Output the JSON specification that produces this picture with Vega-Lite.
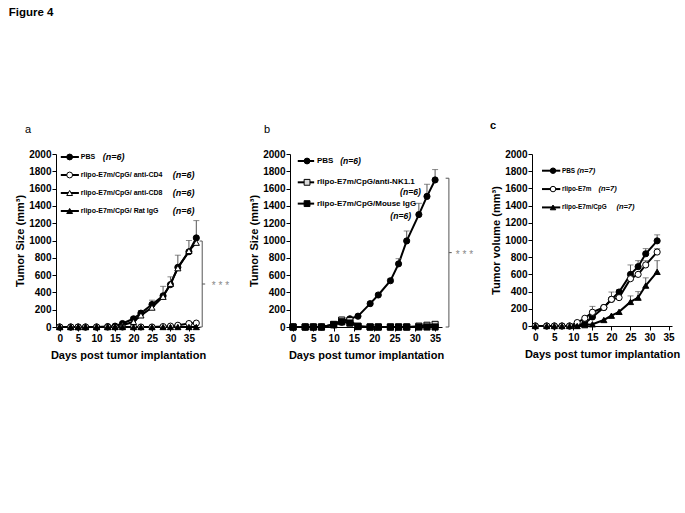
{
  "$schema": "https://vega.github.io/schema/vega-lite/v6.json",
  "padding": {"left": 8, "top": 6, "right": 5, "bottom": 5},
  "title": {"text": "Figure 4", "anchor": "start", "frame": "bounds", "dx": -6, "offset": 102, "fontSize": 11.5, "fontWeight": "bold", "font": "Liberation Sans", "color": "black"},
  "bounds": "flush",
  "spacing": 90,
  "resolve": {"scale": {"shape": "independent", "fill": "independent"}},
  "config": {
    "view": {"stroke": null},
    "font": "Liberation Sans",
    "axis": {"grid": false, "domainColor": "black", "tickColor": "black", "tickSize": 4, "labelFont": "Liberation Sans", "labelFontWeight": "bold", "labelFontSize": 10, "labelColor": "black", "titleFont": "Liberation Sans", "titleFontWeight": "bold", "titleFontSize": 11, "titleColor": "black", "labelFlush": false, "labelOverlap": false, "format": "d"},
    "axisX": {"labelPadding": 2, "titlePadding": 6},
    "axisY": {"labelPadding": 1, "titlePadding": 3},
    "title": {"font": "Liberation Sans", "color": "black"}
  },
  "datasets": {
    "a": [
      {"g":"PBS","d":0,"v":0},{"g":"PBS","d":3,"v":0},{"g":"PBS","d":5,"v":0},{"g":"PBS","d":7,"v":0},{"g":"PBS","d":10,"v":0},{"g":"PBS","d":13,"v":5},{"g":"PBS","d":15,"v":10},{"g":"PBS","d":17,"v":40},{"g":"PBS","d":20,"v":95,"hi":115},{"g":"PBS","d":22,"v":160,"hi":190},{"g":"PBS","d":25,"v":260,"hi":310},{"g":"PBS","d":28,"v":360,"hi":470},{"g":"PBS","d":30,"v":490,"hi":580},{"g":"PBS","d":32,"v":690,"hi":830},{"g":"PBS","d":35,"v":870,"hi":1000},{"g":"PBS","d":37,"v":1030,"hi":1230},
      {"g":"CD4","d":0,"v":0},{"g":"CD4","d":3,"v":0},{"g":"CD4","d":5,"v":0},{"g":"CD4","d":7,"v":0},{"g":"CD4","d":10,"v":0},{"g":"CD4","d":13,"v":0},{"g":"CD4","d":15,"v":0},{"g":"CD4","d":17,"v":0},{"g":"CD4","d":20,"v":0},{"g":"CD4","d":22,"v":0},{"g":"CD4","d":25,"v":0},{"g":"CD4","d":28,"v":5},{"g":"CD4","d":30,"v":10},{"g":"CD4","d":32,"v":20},{"g":"CD4","d":35,"v":40},{"g":"CD4","d":37,"v":45},
      {"g":"CD8","d":0,"v":0},{"g":"CD8","d":3,"v":0},{"g":"CD8","d":5,"v":0},{"g":"CD8","d":7,"v":0},{"g":"CD8","d":10,"v":0},{"g":"CD8","d":13,"v":0},{"g":"CD8","d":15,"v":5},{"g":"CD8","d":17,"v":20},{"g":"CD8","d":20,"v":60},{"g":"CD8","d":22,"v":135},{"g":"CD8","d":25,"v":225},{"g":"CD8","d":28,"v":350},{"g":"CD8","d":30,"v":500},{"g":"CD8","d":32,"v":680},{"g":"CD8","d":35,"v":880},{"g":"CD8","d":37,"v":975},
      {"g":"Rat","d":0,"v":0},{"g":"Rat","d":3,"v":0},{"g":"Rat","d":5,"v":0},{"g":"Rat","d":7,"v":0},{"g":"Rat","d":10,"v":0},{"g":"Rat","d":13,"v":0},{"g":"Rat","d":15,"v":0},{"g":"Rat","d":17,"v":0},{"g":"Rat","d":20,"v":0},{"g":"Rat","d":22,"v":0},{"g":"Rat","d":25,"v":0},{"g":"Rat","d":28,"v":0},{"g":"Rat","d":30,"v":0},{"g":"Rat","d":32,"v":0},{"g":"Rat","d":35,"v":0},{"g":"Rat","d":37,"v":0}
    ],
    "b": [
      {"g":"PBS","d":0,"v":0},{"g":"PBS","d":3,"v":0},{"g":"PBS","d":5,"v":0},{"g":"PBS","d":7,"v":0},{"g":"PBS","d":10,"v":25},{"g":"PBS","d":12,"v":55},{"g":"PBS","d":14,"v":95},{"g":"PBS","d":16,"v":125},{"g":"PBS","d":19,"v":270,"hi":290},{"g":"PBS","d":21,"v":370,"hi":390},{"g":"PBS","d":24,"v":535,"hi":560},{"g":"PBS","d":26,"v":730,"hi":790},{"g":"PBS","d":28,"v":995,"hi":1110},{"g":"PBS","d":31,"v":1300,"hi":1430},{"g":"PBS","d":33,"v":1510,"hi":1650},{"g":"PBS","d":35,"v":1700,"hi":1820},
      {"g":"NK","d":0,"v":0},{"g":"NK","d":3,"v":0},{"g":"NK","d":5,"v":0},{"g":"NK","d":7,"v":0},{"g":"NK","d":10,"v":30},{"g":"NK","d":12,"v":80},{"g":"NK","d":14,"v":75},{"g":"NK","d":16,"v":10},{"g":"NK","d":19,"v":0},{"g":"NK","d":21,"v":0},{"g":"NK","d":24,"v":0},{"g":"NK","d":26,"v":0},{"g":"NK","d":28,"v":0},{"g":"NK","d":31,"v":10},{"g":"NK","d":33,"v":20},{"g":"NK","d":35,"v":30},
      {"g":"Mouse","d":0,"v":0},{"g":"Mouse","d":3,"v":0},{"g":"Mouse","d":5,"v":0},{"g":"Mouse","d":7,"v":0},{"g":"Mouse","d":10,"v":25},{"g":"Mouse","d":12,"v":60},{"g":"Mouse","d":14,"v":45},{"g":"Mouse","d":16,"v":5},{"g":"Mouse","d":19,"v":0},{"g":"Mouse","d":21,"v":0},{"g":"Mouse","d":24,"v":0},{"g":"Mouse","d":26,"v":0},{"g":"Mouse","d":28,"v":0},{"g":"Mouse","d":31,"v":0},{"g":"Mouse","d":33,"v":0},{"g":"Mouse","d":35,"v":0}
    ],
    "c": [
      {"g":"PBS","d":0,"v":0},{"g":"PBS","d":3,"v":0},{"g":"PBS","d":5,"v":0},{"g":"PBS","d":7,"v":0},{"g":"PBS","d":9,"v":0},{"g":"PBS","d":11,"v":10},{"g":"PBS","d":13,"v":30},{"g":"PBS","d":15,"v":105},{"g":"PBS","d":18,"v":215},{"g":"PBS","d":20,"v":310},{"g":"PBS","d":22,"v":395,"hi":420},{"g":"PBS","d":25,"v":600,"hi":710},{"g":"PBS","d":27,"v":690,"hi":760},{"g":"PBS","d":29,"v":840,"hi":900},{"g":"PBS","d":32,"v":990,"hi":1060},
      {"g":"E7m","d":0,"v":0},{"g":"E7m","d":3,"v":0},{"g":"E7m","d":5,"v":0},{"g":"E7m","d":7,"v":0},{"g":"E7m","d":9,"v":0},{"g":"E7m","d":11,"v":40},{"g":"E7m","d":13,"v":90},{"g":"E7m","d":15,"v":160,"hi":228},{"g":"E7m","d":18,"v":215,"hi":240},{"g":"E7m","d":20,"v":310,"hi":395},{"g":"E7m","d":22,"v":330},{"g":"E7m","d":25,"v":550},{"g":"E7m","d":27,"v":600},{"g":"E7m","d":29,"v":710,"hi":760},{"g":"E7m","d":32,"v":860,"hi":900},
      {"g":"CpG","d":0,"v":0},{"g":"CpG","d":3,"v":0},{"g":"CpG","d":5,"v":0},{"g":"CpG","d":7,"v":0},{"g":"CpG","d":9,"v":0},{"g":"CpG","d":11,"v":0},{"g":"CpG","d":13,"v":10},{"g":"CpG","d":15,"v":20},{"g":"CpG","d":18,"v":70},{"g":"CpG","d":20,"v":120},{"g":"CpG","d":22,"v":165},{"g":"CpG","d":25,"v":280,"hi":350},{"g":"CpG","d":27,"v":330,"hi":400},{"g":"CpG","d":29,"v":470,"hi":560},{"g":"CpG","d":32,"v":630,"hi":760}
    ],
    "legA": [
      {"row":0,"g":"PBS","label":"PBS","n":"(n=6)"},
      {"row":1,"g":"CD4","label":"rlipo-E7m/CpG/ anti-CD4","n":"(n=6)"},
      {"row":2,"g":"CD8","label":"rlipo-E7m/CpG/ anti-CD8","n":"(n=6)"},
      {"row":3,"g":"Rat","label":"rlipo-E7m/CpG/ Rat IgG","n":"(n=6)"}
    ],
    "legB": [
      {"row":0,"g":"PBS","label":"PBS","n":"(n=6)"},
      {"row":1,"g":"NK","label":"rlipo-E7m/CpG/anti-NK1.1","n":"(n=6)"},
      {"row":2,"g":"Mouse","label":"rlipo-E7m/CpG/Mouse IgG","n":"(n=6)"}
    ],
    "legC": [
      {"row":0,"g":"PBS","label":"PBS","n":"(n=7)"},
      {"row":1,"g":"E7m","label":"rlipo-E7m","n":"(n=7)"},
      {"row":2,"g":"CpG","label":"rlipo-E7m/CpG","n":"(n=7)"}
    ],
    "one": [{}]
  },
  "hconcat": [
    {
      "width": 144, "height": 173,
      "title": {"text": "a", "anchor": "start", "frame": "group", "dx": -31, "offset": 14, "fontSize": 11, "fontWeight": "normal"},
      "resolve": {"scale": {"y": "independent"}},
      "layer": [
        {"data": {"name": "a"}, "mark": {"type": "line", "color": "black", "strokeWidth": 2}, "encoding": {
          "x": {"field": "d", "type": "quantitative", "scale": {"domain": [-1, 38], "nice": false, "zero": false}, "axis": {"values": [0,5,10,15,20,25,30,35], "title": "Days post tumor implantation"}},
          "y": {"field": "v", "type": "quantitative", "scale": {"domain": [0, 2000], "nice": false}, "axis": {"values": [0,200,400,600,800,1000,1200,1400,1600,1800,2000], "title": "Tumor Size (mm³)"}},
          "detail": {"field": "g"}}},
        {"data": {"name": "a"}, "transform": [{"filter": "isValid(datum.hi)"}], "mark": {"type": "rule", "color": "#555", "strokeWidth": 1}, "encoding": {
          "x": {"field": "d", "type": "quantitative", "axis": {"values": [0,5,10,15,20,25,30,35], "title": "Days post tumor implantation"}},
          "y": {"field": "v", "type": "quantitative", "scale": {"domain": [0, 2000], "nice": false}, "axis": null},
          "y2": {"field": "hi"}}},
        {"data": {"name": "a"}, "transform": [{"filter": "isValid(datum.hi)"}], "mark": {"type": "tick", "orient": "horizontal", "color": "#555", "thickness": 1, "size": 6}, "encoding": {
          "x": {"field": "d", "type": "quantitative", "axis": {"values": [0,5,10,15,20,25,30,35], "title": "Days post tumor implantation"}},
          "y": {"field": "hi", "type": "quantitative", "scale": {"domain": [0, 2000], "nice": false}, "axis": null}}},
        {"data": {"name": "a"}, "mark": {"type": "point", "filled": true, "stroke": "black", "strokeWidth": 1, "size": 38, "opacity": 1}, "encoding": {
          "x": {"field": "d", "type": "quantitative", "axis": {"values": [0,5,10,15,20,25,30,35], "title": "Days post tumor implantation"}},
          "y": {"field": "v", "type": "quantitative", "scale": {"domain": [0, 2000], "nice": false}, "axis": null},
          "shape": {"field": "g", "scale": {"domain": ["PBS","CD4","CD8","Rat"], "range": ["circle","circle","triangle-up","triangle-up"]}, "legend": null},
          "fill": {"field": "g", "scale": {"domain": ["PBS","CD4","CD8","Rat"], "range": ["black","white","white","black"]}, "legend": null}}},
        {"data": {"name": "one"}, "mark": {"type": "rule", "color": "#555", "strokeWidth": 1}, "encoding": {
          "x": {"datum": 38.6, "axis": {"values": [0,5,10,15,20,25,30,35], "title": "Days post tumor implantation"}}, "y": {"datum": 0, "scale": {"domain": [0, 2000], "nice": false}, "axis": null}, "y2": {"datum": 994}}},
        {"data": {"name": "one"}, "mark": {"type": "rule", "color": "#555", "strokeWidth": 1}, "encoding": {
          "x": {"datum": 37.9, "axis": {"values": [0,5,10,15,20,25,30,35], "title": "Days post tumor implantation"}}, "x2": {"datum": 38.6}, "y": {"datum": 994, "scale": {"domain": [0, 2000], "nice": false}, "axis": null}}},
        {"data": {"name": "one"}, "mark": {"type": "rule", "color": "#555", "strokeWidth": 1}, "encoding": {
          "x": {"datum": 37.9, "axis": {"values": [0,5,10,15,20,25,30,35], "title": "Days post tumor implantation"}}, "x2": {"datum": 38.6}, "y": {"datum": 0, "scale": {"domain": [0, 2000], "nice": false}, "axis": null}}},
        {"data": {"name": "one"}, "mark": {"type": "rule", "color": "#555", "strokeWidth": 1}, "encoding": {
          "x": {"datum": 38.6, "axis": {"values": [0,5,10,15,20,25,30,35], "title": "Days post tumor implantation"}}, "x2": {"datum": 39.4}, "y": {"datum": 497, "scale": {"domain": [0, 2000], "nice": false}, "axis": null}}},
        {"data": {"name": "one"}, "mark": {"type": "text", "align": "left", "baseline": "middle", "fontSize": 10, "color": "#888", "dy": 2}, "encoding": {
          "x": {"datum": 41.2, "axis": {"values": [0,5,10,15,20,25,30,35], "title": "Days post tumor implantation"}}, "y": {"datum": 497, "scale": {"domain": [0, 2000], "nice": false}, "axis": null}, "text": {"value": "* * *"}}},
        {"data": {"name": "legA"}, "mark": {"type": "rule", "color": "black", "strokeWidth": 2}, "encoding": {
          "x": {"datum": 0.3, "axis": {"values": [0,5,10,15,20,25,30,35], "title": "Days post tumor implantation"}}, "x2": {"datum": 5.2},
          "y": {"field": "row", "type": "quantitative", "scale": {"domain": [-0.1667, 9.444], "reverse": true, "nice": false, "zero": false}, "axis": null}}},
        {"data": {"name": "legA"}, "mark": {"type": "point", "filled": true, "stroke": "black", "strokeWidth": 1, "size": 34, "opacity": 1}, "encoding": {
          "x": {"datum": 2.7, "axis": {"values": [0,5,10,15,20,25,30,35], "title": "Days post tumor implantation"}},
          "y": {"field": "row", "type": "quantitative", "scale": {"domain": [-0.1667, 9.444], "reverse": true, "nice": false, "zero": false}, "axis": null},
          "shape": {"field": "g", "scale": {"domain": ["PBS","CD4","CD8","Rat"], "range": ["circle","circle","triangle-up","triangle-up"]}, "legend": null},
          "fill": {"field": "g", "scale": {"domain": ["PBS","CD4","CD8","Rat"], "range": ["black","white","white","black"]}, "legend": null}}},
        {"data": {"name": "legA"}, "mark": {"type": "text", "align": "left", "baseline": "middle", "fontSize": 7, "fontWeight": "bold", "color": "black"}, "encoding": {
          "x": {"datum": 5.7, "axis": {"values": [0,5,10,15,20,25,30,35], "title": "Days post tumor implantation"}},
          "y": {"field": "row", "type": "quantitative", "scale": {"domain": [-0.1667, 9.444], "reverse": true, "nice": false, "zero": false}, "axis": null},
          "text": {"field": "label"}}},
        {"data": {"name": "legA"}, "transform": [{"filter": "datum.row == 0"}], "mark": {"type": "text", "align": "left", "baseline": "middle", "fontSize": 9, "fontWeight": "bold", "fontStyle": "italic", "color": "black"}, "encoding": {
          "x": {"datum": 11.65, "axis": {"values": [0,5,10,15,20,25,30,35], "title": "Days post tumor implantation"}},
          "y": {"field": "row", "type": "quantitative", "scale": {"domain": [-0.1667, 9.444], "reverse": true, "nice": false, "zero": false}, "axis": null},
          "text": {"field": "n"}}},
        {"data": {"name": "legA"}, "transform": [{"filter": "datum.row > 0"}], "mark": {"type": "text", "align": "left", "baseline": "middle", "fontSize": 9, "fontWeight": "bold", "fontStyle": "italic", "color": "black"}, "encoding": {
          "x": {"datum": 30.6, "axis": {"values": [0,5,10,15,20,25,30,35], "title": "Days post tumor implantation"}},
          "y": {"field": "row", "type": "quantitative", "scale": {"domain": [-0.1667, 9.444], "reverse": true, "nice": false, "zero": false}, "axis": null},
          "text": {"field": "n"}}}
      ]
    },
    {
      "width": 152, "height": 173,
      "title": {"text": "b", "anchor": "start", "frame": "group", "dx": -26, "offset": 14, "fontSize": 11, "fontWeight": "normal"},
      "resolve": {"scale": {"y": "independent"}},
      "layer": [
        {"data": {"name": "b"}, "mark": {"type": "line", "color": "black", "strokeWidth": 2}, "encoding": {
          "x": {"field": "d", "type": "quantitative", "scale": {"domain": [-0.75, 36.7], "nice": false, "zero": false}, "axis": {"values": [0,5,10,15,20,25,30,35], "title": "Days post tumor implantation"}},
          "y": {"field": "v", "type": "quantitative", "scale": {"domain": [0, 2000], "nice": false}, "axis": {"values": [0,200,400,600,800,1000,1200,1400,1600,1800,2000], "title": "Tumor Size (mm³)"}},
          "detail": {"field": "g"}}},
        {"data": {"name": "b"}, "transform": [{"filter": "isValid(datum.hi)"}], "mark": {"type": "rule", "color": "#555", "strokeWidth": 1}, "encoding": {
          "x": {"field": "d", "type": "quantitative", "axis": {"values": [0,5,10,15,20,25,30,35], "title": "Days post tumor implantation"}},
          "y": {"field": "v", "type": "quantitative", "scale": {"domain": [0, 2000], "nice": false}, "axis": null},
          "y2": {"field": "hi"}}},
        {"data": {"name": "b"}, "transform": [{"filter": "isValid(datum.hi)"}], "mark": {"type": "tick", "orient": "horizontal", "color": "#555", "thickness": 1, "size": 6}, "encoding": {
          "x": {"field": "d", "type": "quantitative", "axis": {"values": [0,5,10,15,20,25,30,35], "title": "Days post tumor implantation"}},
          "y": {"field": "hi", "type": "quantitative", "scale": {"domain": [0, 2000], "nice": false}, "axis": null}}},
        {"data": {"name": "b"}, "mark": {"type": "point", "filled": true, "stroke": "black", "strokeWidth": 1, "size": 38, "opacity": 1}, "encoding": {
          "x": {"field": "d", "type": "quantitative", "axis": {"values": [0,5,10,15,20,25,30,35], "title": "Days post tumor implantation"}},
          "y": {"field": "v", "type": "quantitative", "scale": {"domain": [0, 2000], "nice": false}, "axis": null},
          "shape": {"field": "g", "scale": {"domain": ["PBS","NK","Mouse"], "range": ["circle","square","square"]}, "legend": null},
          "fill": {"field": "g", "scale": {"domain": ["PBS","NK","Mouse"], "range": ["black","#d9d9d9","black"]}, "legend": null}}},
        {"data": {"name": "one"}, "mark": {"type": "rule", "color": "#555", "strokeWidth": 1}, "encoding": {
          "x": {"datum": 38.4, "axis": {"values": [0,5,10,15,20,25,30,35], "title": "Days post tumor implantation"}}, "y": {"datum": 0, "scale": {"domain": [0, 2000], "nice": false}, "axis": null}, "y2": {"datum": 1720}}},
        {"data": {"name": "one"}, "mark": {"type": "rule", "color": "#555", "strokeWidth": 1}, "encoding": {
          "x": {"datum": 37.6, "axis": {"values": [0,5,10,15,20,25,30,35], "title": "Days post tumor implantation"}}, "x2": {"datum": 38.4}, "y": {"datum": 1720, "scale": {"domain": [0, 2000], "nice": false}, "axis": null}}},
        {"data": {"name": "one"}, "mark": {"type": "rule", "color": "#555", "strokeWidth": 1}, "encoding": {
          "x": {"datum": 37.6, "axis": {"values": [0,5,10,15,20,25,30,35], "title": "Days post tumor implantation"}}, "x2": {"datum": 38.4}, "y": {"datum": 0, "scale": {"domain": [0, 2000], "nice": false}, "axis": null}}},
        {"data": {"name": "one"}, "mark": {"type": "rule", "color": "#555", "strokeWidth": 1}, "encoding": {
          "x": {"datum": 38.4, "axis": {"values": [0,5,10,15,20,25,30,35], "title": "Days post tumor implantation"}}, "x2": {"datum": 39.1}, "y": {"datum": 860, "scale": {"domain": [0, 2000], "nice": false}, "axis": null}}},
        {"data": {"name": "one"}, "mark": {"type": "text", "align": "left", "baseline": "middle", "fontSize": 10, "color": "#888", "dy": 2}, "encoding": {
          "x": {"datum": 40.1, "axis": {"values": [0,5,10,15,20,25,30,35], "title": "Days post tumor implantation"}}, "y": {"datum": 860, "scale": {"domain": [0, 2000], "nice": false}, "axis": null}, "text": {"value": "* * *"}}},
        {"data": {"name": "legB"}, "mark": {"type": "rule", "color": "black", "strokeWidth": 2}, "encoding": {
          "x": {"datum": 1.16, "axis": {"values": [0,5,10,15,20,25,30,35], "title": "Days post tumor implantation"}}, "x2": {"datum": 5.2},
          "y": {"field": "row", "type": "quantitative", "scale": {"domain": [-0.329, 7.79], "reverse": true, "nice": false, "zero": false}, "axis": null}}},
        {"data": {"name": "legB"}, "mark": {"type": "point", "filled": true, "stroke": "black", "strokeWidth": 1, "size": 34, "opacity": 1}, "encoding": {
          "x": {"datum": 3.45, "axis": {"values": [0,5,10,15,20,25,30,35], "title": "Days post tumor implantation"}},
          "y": {"field": "row", "type": "quantitative", "scale": {"domain": [-0.329, 7.79], "reverse": true, "nice": false, "zero": false}, "axis": null},
          "shape": {"field": "g", "scale": {"domain": ["PBS","NK","Mouse"], "range": ["circle","square","square"]}, "legend": null},
          "fill": {"field": "g", "scale": {"domain": ["PBS","NK","Mouse"], "range": ["black","#d9d9d9","black"]}, "legend": null}}},
        {"data": {"name": "legB"}, "mark": {"type": "text", "align": "left", "baseline": "middle", "fontSize": 8, "fontWeight": "bold", "color": "black"}, "encoding": {
          "x": {"datum": 5.9, "axis": {"values": [0,5,10,15,20,25,30,35], "title": "Days post tumor implantation"}},
          "y": {"field": "row", "type": "quantitative", "scale": {"domain": [-0.329, 7.79], "reverse": true, "nice": false, "zero": false}, "axis": null},
          "text": {"field": "label"}}},
        {"data": {"name": "legB"}, "transform": [{"filter": "datum.row == 0"}], "mark": {"type": "text", "align": "left", "baseline": "middle", "fontSize": 8.6, "fontWeight": "bold", "fontStyle": "italic", "color": "black"}, "encoding": {
          "x": {"datum": 11.6, "axis": {"values": [0,5,10,15,20,25,30,35], "title": "Days post tumor implantation"}},
          "y": {"field": "row", "type": "quantitative", "scale": {"domain": [-0.329, 7.79], "reverse": true, "nice": false, "zero": false}, "axis": null},
          "text": {"field": "n"}}},
        {"data": {"name": "legB"}, "transform": [{"filter": "datum.row == 1"}], "mark": {"type": "text", "align": "right", "baseline": "middle", "fontSize": 8.6, "fontWeight": "bold", "fontStyle": "italic", "color": "black", "dy": 10}, "encoding": {
          "x": {"datum": 31.5, "axis": {"values": [0,5,10,15,20,25,30,35], "title": "Days post tumor implantation"}},
          "y": {"field": "row", "type": "quantitative", "scale": {"domain": [-0.329, 7.79], "reverse": true, "nice": false, "zero": false}, "axis": null},
          "text": {"field": "n"}}},
        {"data": {"name": "legB"}, "transform": [{"filter": "datum.row == 2"}], "mark": {"type": "text", "align": "right", "baseline": "middle", "fontSize": 8.6, "fontWeight": "bold", "fontStyle": "italic", "color": "black", "dy": 12.5}, "encoding": {
          "x": {"datum": 29.1, "axis": {"values": [0,5,10,15,20,25,30,35], "title": "Days post tumor implantation"}},
          "y": {"field": "row", "type": "quantitative", "scale": {"domain": [-0.329, 7.79], "reverse": true, "nice": false, "zero": false}, "axis": null},
          "text": {"field": "n"}}}
      ]
    },
    {
      "width": 140, "height": 172,
      "title": {"text": "c", "anchor": "start", "frame": "group", "dx": -42, "offset": 18, "fontSize": 11, "fontWeight": "bold"},
      "resolve": {"scale": {"y": "independent"}},
      "layer": [
        {"data": {"name": "c"}, "mark": {"type": "line", "color": "black", "strokeWidth": 2}, "encoding": {
          "x": {"field": "d", "type": "quantitative", "scale": {"domain": [-0.87, 35.9], "nice": false, "zero": false}, "axis": {"values": [0,5,10,15,20,25,30,35], "title": "Days post tumor implantation"}},
          "y": {"field": "v", "type": "quantitative", "scale": {"domain": [0, 2000], "nice": false}, "axis": {"values": [0,200,400,600,800,1000,1200,1400,1600,1800,2000], "title": "Tumor volume (mm³)"}},
          "detail": {"field": "g"}}},
        {"data": {"name": "c"}, "transform": [{"filter": "isValid(datum.hi)"}], "mark": {"type": "rule", "color": "#555", "strokeWidth": 1}, "encoding": {
          "x": {"field": "d", "type": "quantitative", "axis": {"values": [0,5,10,15,20,25,30,35], "title": "Days post tumor implantation"}},
          "y": {"field": "v", "type": "quantitative", "scale": {"domain": [0, 2000], "nice": false}, "axis": null},
          "y2": {"field": "hi"}}},
        {"data": {"name": "c"}, "transform": [{"filter": "isValid(datum.hi)"}], "mark": {"type": "tick", "orient": "horizontal", "color": "#555", "thickness": 1, "size": 6}, "encoding": {
          "x": {"field": "d", "type": "quantitative", "axis": {"values": [0,5,10,15,20,25,30,35], "title": "Days post tumor implantation"}},
          "y": {"field": "hi", "type": "quantitative", "scale": {"domain": [0, 2000], "nice": false}, "axis": null}}},
        {"data": {"name": "c"}, "mark": {"type": "point", "filled": true, "stroke": "black", "strokeWidth": 1, "size": 38, "opacity": 1}, "encoding": {
          "x": {"field": "d", "type": "quantitative", "axis": {"values": [0,5,10,15,20,25,30,35], "title": "Days post tumor implantation"}},
          "y": {"field": "v", "type": "quantitative", "scale": {"domain": [0, 2000], "nice": false}, "axis": null},
          "shape": {"field": "g", "scale": {"domain": ["PBS","E7m","CpG"], "range": ["circle","circle","triangle-up"]}, "legend": null},
          "fill": {"field": "g", "scale": {"domain": ["PBS","E7m","CpG"], "range": ["black","white","black"]}, "legend": null}}},
        {"data": {"name": "legC"}, "mark": {"type": "rule", "color": "black", "strokeWidth": 2}, "encoding": {
          "x": {"datum": 1.76, "axis": {"values": [0,5,10,15,20,25,30,35], "title": "Days post tumor implantation"}}, "x2": {"datum": 6.56},
          "y": {"field": "row", "type": "quantitative", "scale": {"domain": [-0.91, 8.46], "reverse": true, "nice": false, "zero": false}, "axis": null}}},
        {"data": {"name": "legC"}, "mark": {"type": "point", "filled": true, "stroke": "black", "strokeWidth": 1, "size": 30, "opacity": 1}, "encoding": {
          "x": {"datum": 4.65, "axis": {"values": [0,5,10,15,20,25,30,35], "title": "Days post tumor implantation"}},
          "y": {"field": "row", "type": "quantitative", "scale": {"domain": [-0.91, 8.46], "reverse": true, "nice": false, "zero": false}, "axis": null},
          "shape": {"field": "g", "scale": {"domain": ["PBS","E7m","CpG"], "range": ["circle","circle","triangle-up"]}, "legend": null},
          "fill": {"field": "g", "scale": {"domain": ["PBS","E7m","CpG"], "range": ["black","white","black"]}, "legend": null}}},
        {"data": {"name": "legC"}, "mark": {"type": "text", "align": "left", "baseline": "middle", "fontSize": 6.4, "fontWeight": "bold", "color": "black"}, "encoding": {
          "x": {"datum": 7.0, "axis": {"values": [0,5,10,15,20,25,30,35], "title": "Days post tumor implantation"}},
          "y": {"field": "row", "type": "quantitative", "scale": {"domain": [-0.91, 8.46], "reverse": true, "nice": false, "zero": false}, "axis": null},
          "text": {"field": "label"}}},
        {"data": {"name": "legC"}, "transform": [{"filter": "datum.row == 0"}], "mark": {"type": "text", "align": "left", "baseline": "middle", "fontSize": 7.5, "fontWeight": "bold", "fontStyle": "italic", "color": "black"}, "encoding": {
          "x": {"datum": 10.95, "axis": {"values": [0,5,10,15,20,25,30,35], "title": "Days post tumor implantation"}},
          "y": {"field": "row", "type": "quantitative", "scale": {"domain": [-0.91, 8.46], "reverse": true, "nice": false, "zero": false}, "axis": null},
          "text": {"field": "n"}}},
        {"data": {"name": "legC"}, "transform": [{"filter": "datum.row == 1"}], "mark": {"type": "text", "align": "left", "baseline": "middle", "fontSize": 7.5, "fontWeight": "bold", "fontStyle": "italic", "color": "black"}, "encoding": {
          "x": {"datum": 16.6, "axis": {"values": [0,5,10,15,20,25,30,35], "title": "Days post tumor implantation"}},
          "y": {"field": "row", "type": "quantitative", "scale": {"domain": [-0.91, 8.46], "reverse": true, "nice": false, "zero": false}, "axis": null},
          "text": {"field": "n"}}},
        {"data": {"name": "legC"}, "transform": [{"filter": "datum.row == 2"}], "mark": {"type": "text", "align": "left", "baseline": "middle", "fontSize": 7.5, "fontWeight": "bold", "fontStyle": "italic", "color": "black"}, "encoding": {
          "x": {"datum": 21.3, "axis": {"values": [0,5,10,15,20,25,30,35], "title": "Days post tumor implantation"}},
          "y": {"field": "row", "type": "quantitative", "scale": {"domain": [-0.91, 8.46], "reverse": true, "nice": false, "zero": false}, "axis": null},
          "text": {"field": "n"}}}
      ]
    }
  ]
}
